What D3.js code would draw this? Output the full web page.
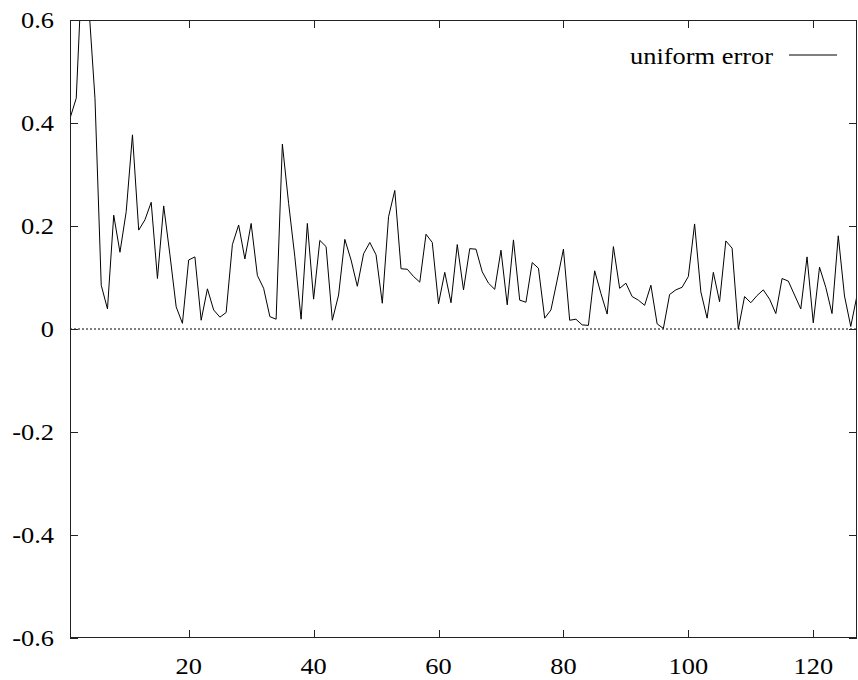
<!DOCTYPE html>
<html>
<head>
<meta charset="utf-8">
<script src="https://cdn.jsdelivr.net/npm/d3@7"></script>
<style>
  body { margin: 0; background: #fff; }
  svg { display: block; }
  svg text { font-family: "Liberation Serif", "Times New Roman", Times, serif; font-size: 24px; }
</style>
</head>
<body>
<div id="chart"></div>
<script>
// Series values, one per step (x = 1, 2, 3 ...)
var errorValues = [
  0.409, 0.448, 0.72, 0.63, 0.448, 0.085, 0.039, 0.221, 0.149, 0.228,
  0.377, 0.192, 0.212, 0.246, 0.098, 0.239, 0.144, 0.043, 0.011, 0.134,
  0.140, 0.017, 0.078, 0.037, 0.023, 0.032, 0.164, 0.202, 0.136, 0.205,
  0.104, 0.079, 0.024, 0.019, 0.359, 0.244, 0.140, 0.019, 0.205, 0.058,
  0.172, 0.160, 0.017, 0.066, 0.174, 0.134, 0.083, 0.146, 0.168, 0.144,
  0.050, 0.218, 0.269, 0.117, 0.116, 0.102, 0.091, 0.184, 0.168, 0.049,
  0.110, 0.051, 0.164, 0.076, 0.156, 0.155, 0.111, 0.089, 0.077, 0.153,
  0.047, 0.173, 0.056, 0.052, 0.129, 0.118, 0.021, 0.037, 0.095, 0.155,
  0.017, 0.019, 0.008, 0.007, 0.113, 0.069, 0.029, 0.160, 0.079, 0.089,
  0.063, 0.056, 0.046, 0.085, 0.010, 0.001, 0.067, 0.076, 0.081, 0.102,
  0.204, 0.072, 0.021, 0.110, 0.053, 0.171, 0.157, 0.000, 0.063, 0.051,
  0.065, 0.076, 0.058, 0.030, 0.098, 0.093, 0.066, 0.039, 0.140, 0.012,
  0.120, 0.081, 0.030, 0.181, 0.064, 0.005, 0.065, 0.035
];
var xTicks = [20, 40, 60, 80, 100, 120];
var yTicks = [-0.6, -0.4, -0.2, 0, 0.2, 0.4, 0.6];
var yTickLabels = ["-0.6", "-0.4", "-0.2", "0", "0.2", "0.4", "0.6"];
var seriesName = "uniform error";

var margin = {top: 20, right: 1, bottom: 42, left: 70},
    width = 858 - margin.left - margin.right,
    height = 680 - margin.top - margin.bottom;

var tickLen = 8;
var stretch = "scale(1.1,1)"; // the reference glyphs are a bit wider than Times

var svg = d3.select("#chart")
    .append("svg")
    .attr("width", width + margin.left + margin.right)
    .attr("height", height + margin.top + margin.bottom)
    .append("g")
    .attr("transform", "translate(" + margin.left + "," + margin.top + ")");

var data = errorValues.map(function(v, i) { return {x: i + 1, y: v}; });

var x = d3.scaleLinear().domain([1, 127]).range([0, width]);
var y = d3.scaleLinear().domain([-0.6, 0.6]).range([height, 0]);

// clip so the line stays inside the frame
svg.append("defs").append("clipPath")
    .attr("id", "clip")
    .append("rect")
    .attr("width", width)
    .attr("height", height);

// dotted zero line
svg.append("line")
    .attr("x1", 0).attr("x2", width)
    .attr("y1", y(0)).attr("y2", y(0))
    .attr("stroke", "#000")
    .attr("stroke-width", 1)
    .attr("stroke-dasharray", "2,2");

// the series
var line = d3.line()
    .x(function(d) { return x(d.x); })
    .y(function(d) { return y(d.y); });

svg.append("path")
    .datum(data)
    .attr("clip-path", "url(#clip)")
    .attr("fill", "none")
    .attr("stroke", "#000")
    .attr("stroke-width", 1)
    .attr("d", line);

// frame
svg.append("rect")
    .attr("x", 0.5).attr("y", 0.5)
    .attr("width", width - 1).attr("height", height - 1)
    .attr("fill", "none")
    .attr("stroke", "#222")
    .attr("stroke-width", 1);

// inward ticks on all four sides (gnuplot mirror style)
var ticks = svg.append("g").attr("stroke", "#222").attr("stroke-width", 1);
xTicks.forEach(function(t) {
    var px = Math.round(x(t)) + 0.5;
    ticks.append("line").attr("x1", px).attr("x2", px).attr("y1", height).attr("y2", height - tickLen);
    ticks.append("line").attr("x1", px).attr("x2", px).attr("y1", 0).attr("y2", tickLen);
});
yTicks.forEach(function(t) {
    var py = Math.round(y(t)) + 0.5;
    ticks.append("line").attr("x1", 0).attr("x2", tickLen).attr("y1", py).attr("y2", py);
    ticks.append("line").attr("x1", width).attr("x2", width - tickLen).attr("y1", py).attr("y2", py);
});

// tick labels
svg.append("g").selectAll("text")
    .data(xTicks)
    .enter()
    .append("text")
    .attr("transform", function(d) { return "translate(" + x(d) + "," + (height + 36) + ") " + stretch; })
    .attr("text-anchor", "middle")
    .text(function(d) { return d; });

svg.append("g").selectAll("text")
    .data(yTicks)
    .enter()
    .append("text")
    .attr("transform", function(d) { return "translate(-16," + y(d) + ") " + stretch; })
    .attr("dy", "0.33em")
    .attr("text-anchor", "end")
    .text(function(d, i) { return yTickLabels[i]; });

// legend
svg.append("text")
    .attr("transform", "translate(703,44) " + stretch)
    .attr("text-anchor", "end")
    .text(seriesName);

svg.append("line")
    .attr("x1", 719).attr("x2", 767)
    .attr("y1", 35).attr("y2", 35)
    .attr("stroke", "#000")
    .attr("stroke-width", 1);
</script>
</body>
</html>
